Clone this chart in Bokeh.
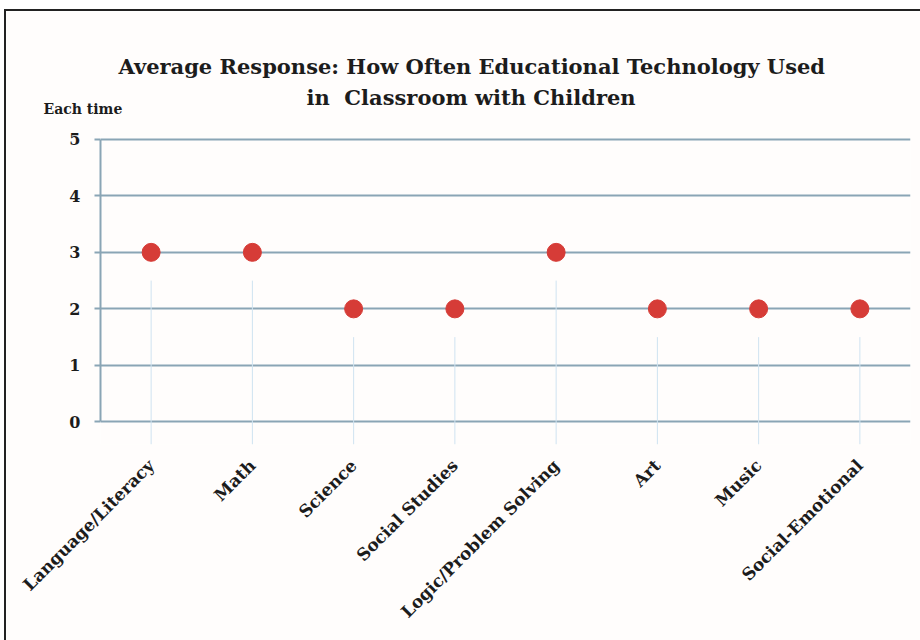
import math
from bokeh.plotting import figure
from bokeh.models import ColumnDataSource, Title, FixedTicker
from bokeh.embed import file_html
from bokeh.resources import INLINE

# Survey data: average response per subject area
categories = ["Language/Literacy", "Math", "Science", "Social Studies",
              "Logic/Problem Solving", "Art", "Music", "Social-Emotional"]
avg_response = [3, 3, 2, 2, 3, 2, 2, 2]
y_ticks = [0, 1, 2, 3, 4, 5]

title_line1 = "Average Response: How Often Educational Technology Used"
title_line2 = "in\u00a0 Classroom with Children"
y_caption = "Each time"

FONT = "DejaVu Serif"
GRID = "#8aa5b5"
BG = "#fffdfc"
INK = "#1c1c1c"

y_floor = -0.4
src = ColumnDataSource(dict(
    cat=categories,
    val=avg_response,
    stem_top=[v - 0.5 for v in avg_response],
    stem_bottom=[y_floor] * len(avg_response),
))

p = figure(x_range=categories, y_range=(y_floor, 5.05),
           width=916, height=631, margin=(9, 0, 0, 4),
           output_backend="svg", toolbar_location=None,
           min_border_left=94, min_border_right=12,
           min_border_top=125, min_border_bottom=198,
           background_fill_color=BG, border_fill_color=BG)
p.styles = {"border-top": "2px solid #222", "border-left": "2px solid #222"}
p.outline_line_color = None

# faint drop lines under each marker
p.segment(x0="cat", y0="stem_bottom", x1="cat", y1="stem_top", source=src,
          line_color="#cfe3f1", line_width=1)

# horizontal gridlines
p.xgrid.grid_line_color = None
p.ygrid.ticker = FixedTicker(ticks=y_ticks)
p.ygrid.grid_line_color = GRID
p.ygrid.grid_line_width = 2

# markers
p.scatter(x="cat", y="val", source=src, size=18,
          fill_color="#d63c37", line_color="#d63c37")

# y axis
p.yaxis.ticker = FixedTicker(ticks=y_ticks)
p.yaxis.bounds = (0, 5)
p.yaxis.axis_line_color = GRID
p.yaxis.axis_line_width = 2
p.yaxis.major_tick_line_color = GRID
p.yaxis.major_tick_line_width = 2
p.yaxis.major_tick_out = 6
p.yaxis.major_tick_in = 0
p.yaxis.minor_tick_line_color = None
p.yaxis.major_label_standoff = 14
p.yaxis.major_label_text_font = FONT
p.yaxis.major_label_text_font_style = "bold"
p.yaxis.major_label_text_font_size = "16px"
p.yaxis.major_label_text_color = INK

# x axis: rotated category labels
p.xaxis.axis_line_color = None
p.xaxis.major_tick_line_color = None
p.xaxis.minor_tick_line_color = None
p.xaxis.major_label_orientation = math.pi / 4
p.xaxis.major_label_standoff = 12
p.xaxis.major_label_text_font = FONT
p.xaxis.major_label_text_font_style = "bold"
p.xaxis.major_label_text_font_size = "17px"
p.xaxis.major_label_text_color = INK

# caption and two-line title, stacked upward from the plot area;
# the second title line tucks in beside the caption
p.title = None
for txt, off, size, standoff in [
    (y_caption, -57, "14px", 40),
    (title_line2, 206, "21px", -62),
    (title_line1, 18, "21px", 0),
]:
    p.add_layout(Title(text=txt, align="left", offset=off,
                       text_font=FONT, text_font_style="bold",
                       text_font_size=size, text_color=INK,
                       standoff=standoff), "above")

open("out.html", "w").write(file_html(p, INLINE))
